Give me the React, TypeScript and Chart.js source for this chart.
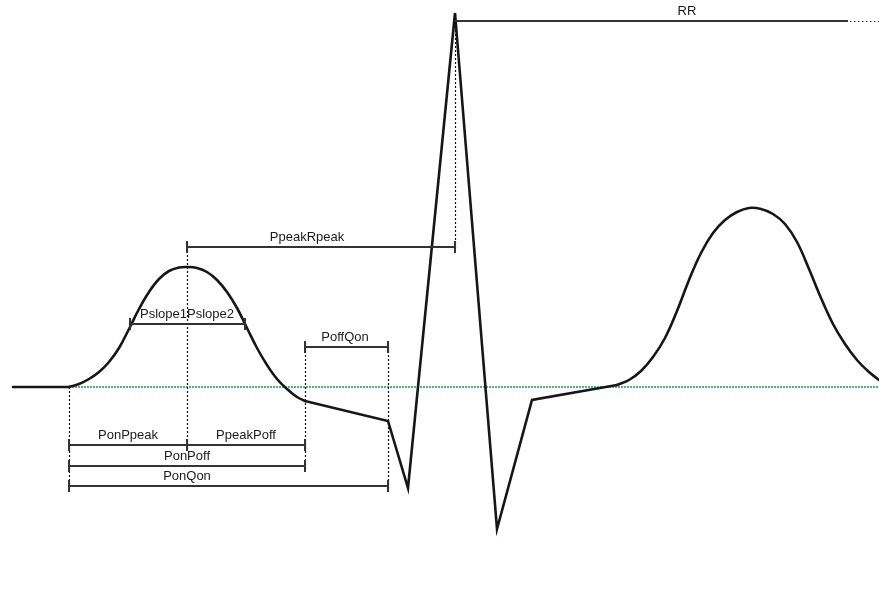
import React, { useEffect, useRef } from "react";
import { Chart, registerables } from "chart.js";

Chart.register(...registerables);

// Time (x) and amplitude (y) samples
const flatX = [13, 69];
const flatY = [0, 0];

const pWaveX = [69, 79, 89, 99, 109, 119, 129, 139, 149, 159, 169, 179, 187, 197, 207, 217, 227, 237, 247, 257, 267, 277, 287, 297, 305];
const pWaveY = [0, 3, 8, 15, 25, 39, 58, 78, 95, 108, 116, 119.5, 120, 119, 115, 107, 95, 79, 59, 39, 22, 8, -2, -10, -14];

const qrsX = [305, 388, 408, 455, 497, 532, 617];
const qrsY = [-14, -34, -101, 374, -142, -13, 2];

const tWaveX = [617, 629, 641, 653, 665, 677, 689, 701, 713, 725, 737, 749, 761, 773, 785, 797, 809, 821, 833, 845, 857, 869, 879];
const tWaveY = [2, 7, 16, 30, 49, 76, 107, 134, 154, 167, 175, 179, 178, 173, 163, 145, 118, 89, 63, 43, 27, 15, 7];

// Baseline
const baselineStart = 12;
const baselineEnd = 879;
const baselineLevel = 0;

// Dotted fiducial markers
const markerX = [69, 187, 305, 388, 455];
const markerTop = [0, 144, 44, 44, 373];
const markerBottom = [-105, -63, -83, -105, 137];

// Interval bars
const intervalNames = ["PpeakRpeak", "RR", "Pslope1Pslope2", "PoffQon", "PonPpeak", "PpeakPoff", "PonPoff", "PonQon"];
const intervalStart = [187, 455, 130, 305, 69, 187, 69, 69];
const intervalEnd = [455, 848, 245, 388, 187, 305, 305, 388];
const intervalLevel = [140, 366, 63, 40, -58, -58, -79, -99];
const intervalLabelX = [307, 687, 187, 345, 128, 246, 187, 187];
const intervalStartTick = [true, false, true, true, true, true, true, true];
const intervalEndTick = [true, false, true, true, true, true, true, true];
const rrDottedEnd = 879;

const toPts = (xs: number[], ys: number[]) => xs.map((x, i) => ({ x, y: ys[i] }));

const annotations = {
  id: "ecgAnnotations",
  beforeDatasetsDraw(chart: any) {
    const { ctx, scales } = chart;
    const sx = scales.x, sy = scales.y;
    ctx.save();
    ctx.strokeStyle = "#1f9a45";
    ctx.lineWidth = 1.5;
    ctx.setLineDash([2, 1]);
    ctx.beginPath();
    ctx.moveTo(sx.getPixelForValue(baselineStart), sy.getPixelForValue(baselineLevel));
    ctx.lineTo(sx.getPixelForValue(baselineEnd), sy.getPixelForValue(baselineLevel));
    ctx.stroke();
    ctx.restore();
  },
  afterDatasetsDraw(chart: any) {
    const { ctx, scales } = chart;
    const sx = scales.x, sy = scales.y;
    ctx.save();
    // dotted markers
    ctx.strokeStyle = "#111";
    ctx.lineWidth = 1.2;
    ctx.setLineDash([2, 2]);
    markerX.forEach((x, i) => {
      const px = Math.round(sx.getPixelForValue(x)) + 0.5;
      ctx.beginPath();
      ctx.moveTo(px, sy.getPixelForValue(markerTop[i]));
      ctx.lineTo(px, sy.getPixelForValue(markerBottom[i]));
      ctx.stroke();
    });
    // intervals
    ctx.setLineDash([]);
    ctx.strokeStyle = "#333";
    ctx.fillStyle = "#1a1a1a";
    ctx.font = '13px "Liberation Sans", Arial, sans-serif';
    ctx.textAlign = "center";
    ctx.textBaseline = "bottom";
    intervalNames.forEach((name, i) => {
      const x1 = sx.getPixelForValue(intervalStart[i]);
      const x2 = sx.getPixelForValue(intervalEnd[i]);
      const py = Math.round(sy.getPixelForValue(intervalLevel[i]));
      ctx.lineWidth = 2;
      ctx.beginPath();
      ctx.moveTo(x1, py);
      ctx.lineTo(x2, py);
      ctx.stroke();
      if (intervalStartTick[i]) {
        ctx.beginPath();
        ctx.moveTo(x1, py - 6);
        ctx.lineTo(x1, py + 6);
        ctx.stroke();
      }
      if (intervalEndTick[i]) {
        ctx.beginPath();
        ctx.moveTo(x2, py - 6);
        ctx.lineTo(x2, py + 6);
        ctx.stroke();
      }
      ctx.fillText(name, sx.getPixelForValue(intervalLabelX[i]), py - 3);
    });
    // RR continuation
    const rrIdx = intervalNames.indexOf("RR");
    const rrPy = Math.round(sy.getPixelForValue(intervalLevel[rrIdx]));
    ctx.lineWidth = 1;
    ctx.setLineDash([1.5, 2.5]);
    ctx.beginPath();
    ctx.moveTo(sx.getPixelForValue(intervalEnd[rrIdx]) + 2, rrPy + 0.5);
    ctx.lineTo(sx.getPixelForValue(rrDottedEnd), rrPy + 0.5);
    ctx.stroke();
    ctx.restore();
  },
};

export default function App() {
  const ref = useRef<HTMLCanvasElement>(null);
  useEffect(() => {
    if (!ref.current) return;
    const common = {
      borderColor: "#161616",
      borderWidth: 2.6,
      pointRadius: 0,
      fill: false,
      clip: false as any,
      borderJoinStyle: "round" as const,
      borderCapStyle: "round" as const,
    };
    const chart = new Chart(ref.current, {
      type: "line",
      data: {
        datasets: [
          { ...common, data: toPts(flatX, flatY), tension: 0 },
          { ...common, data: toPts(pWaveX, pWaveY), tension: 0.4 },
          { ...common, data: toPts(qrsX, qrsY), tension: 0, borderJoinStyle: "miter" as const },
          { ...common, data: toPts(tWaveX, tWaveY), tension: 0.4 },
        ],
      },
      options: {
        animation: false,
        responsive: false,
        events: [],
        layout: { padding: 0 },
        plugins: { legend: { display: false }, tooltip: { enabled: false } },
        scales: {
          x: { type: "linear", min: 0, max: 879, display: false },
          y: { type: "linear", min: -214, max: 387, display: false },
        },
      },
      plugins: [annotations],
    });
    return () => chart.destroy();
  }, []);
  return (
    <div style={{ position: "fixed", left: 0, top: 0, width: 879, height: 601, background: "#fff" }}>
      <canvas ref={ref} width={879} height={601} style={{ display: "block", width: 879, height: 601 }} />
    </div>
  );
}
